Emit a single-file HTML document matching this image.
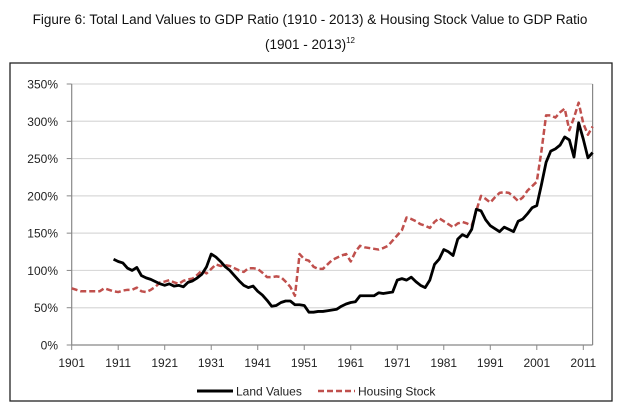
<!DOCTYPE html>
<html><head><meta charset="utf-8"><style>
body{margin:0;background:#fff;width:620px;height:406px;overflow:hidden;font-family:"Liberation Sans",sans-serif}
</style></head><body>
<svg width="620" height="406" xmlns="http://www.w3.org/2000/svg" style="font-family:'Liberation Sans',sans-serif">
<text x="310" y="24" text-anchor="middle" font-size="13.5" fill="#111">Figure 6: Total Land Values to GDP Ratio (1910 - 2013) &amp; Housing Stock Value to GDP Ratio</text>
<text x="310" y="49" text-anchor="middle" font-size="13.5" fill="#111">(1901 - 2013)<tspan font-size="8" dy="-6">12</tspan></text>
<rect x="10" y="63" width="602" height="338" fill="none" stroke="#222" stroke-width="1.3"/>
<g id="grid"></g><g id="axes"></g><g id="series"></g>
<g>
<line x1="197" y1="391" x2="233" y2="391" stroke="#000" stroke-width="3"/>
<text x="236" y="395.5" font-size="12" fill="#222">Land Values</text>
<line x1="318" y1="391" x2="355" y2="391" stroke="#c0504d" stroke-width="2.5" stroke-dasharray="6,3"/>
<text x="358" y="395.5" font-size="12" fill="#222">Housing Stock</text>
</g>
</svg>
<script>
const yTicks=[0,50,100,150,200,250,300,350];
const xTicks=[1901,1911,1921,1931,1941,1951,1961,1971,1981,1991,2001,2011];
const landYears=[1910,1911,1912,1913,1914,1915,1916,1917,1918,1919,1920,1921,1922,1923,1924,1925,1926,1927,1928,1929,1930,1931,1932,1933,1934,1935,1936,1937,1938,1939,1940,1941,1942,1943,1944,1945,1946,1947,1948,1949,1950,1951,1952,1953,1954,1955,1956,1957,1958,1959,1960,1961,1962,1963,1964,1965,1966,1967,1968,1969,1970,1971,1972,1973,1974,1975,1976,1977,1978,1979,1980,1981,1982,1983,1984,1985,1986,1987,1988,1989,1990,1991,1992,1993,1994,1995,1996,1997,1998,1999,2000,2001,2002,2003,2004,2005,2006,2007,2008,2009,2010,2011,2012,2013];
const landValues=[115,112,110,103,100,104,93,90,88,85,82,80,82,79,80,78,84,86,90,95,105,122,118,112,105,100,93,86,80,77,79,72,67,60,52,53,57,59,59,54,54,53,44,44,45,45,46,47,48,52,55,57,58,66,66,66,66,70,69,70,71,87,89,87,91,85,80,77,87,108,115,128,125,120,142,148,145,155,182,180,168,160,156,152,158,155,152,166,169,176,184,187,215,245,260,263,268,279,275,252,298,276,251,258];
const houseYears=[1901,1902,1903,1904,1905,1906,1907,1908,1909,1910,1911,1912,1913,1914,1915,1916,1917,1918,1919,1920,1921,1922,1923,1924,1925,1926,1927,1928,1929,1930,1931,1932,1933,1934,1935,1936,1937,1938,1939,1940,1941,1942,1943,1944,1945,1946,1947,1948,1949,1950,1951,1952,1953,1954,1955,1956,1957,1958,1959,1960,1961,1962,1963,1964,1965,1966,1967,1968,1969,1970,1971,1972,1973,1974,1975,1976,1977,1978,1979,1980,1981,1982,1983,1984,1985,1986,1987,1988,1989,1990,1991,1992,1993,1994,1995,1996,1997,1998,1999,2000,2001,2002,2003,2004,2005,2006,2007,2008,2009,2010,2011,2012,2013];
const houseValues=[76,74,72,72,72,72,72,76,74,72,71,73,74,74,77,72,71,74,78,84,85,87,84,82,86,88,89,94,100,96,102,108,106,107,106,103,100,98,103,103,102,97,91,91,92,91,85,78,66,122,115,113,105,102,102,108,114,117,120,122,112,125,133,131,130,129,128,130,133,140,147,154,171,169,166,162,160,157,165,170,166,162,158,163,165,163,160,180,200,196,191,198,204,205,204,199,193,198,207,213,219,260,308,308,305,312,317,288,305,325,297,282,293];

const NS="http://www.w3.org/2000/svg";
const X0=71.7,X1=592.6,Y0=345,Y1=84;
const xs=y=>X0+(y-1901)*(X1-X0)/(2013-1901);
const ys=v=>Y0-v*(Y0-Y1)/350;
function mk(tag,attrs,parent){const e=document.createElementNS(NS,tag);for(const k in attrs)e.setAttribute(k,attrs[k]);parent.appendChild(e);return e;}
const grid=document.getElementById('grid'),axes=document.getElementById('axes'),series=document.getElementById('series');
yTicks.forEach(v=>{
  if(v>0){const g=mk('line',{x1:X0,x2:X1,y1:ys(v),y2:ys(v),stroke:'#d9d9d9','stroke-width':1.2},grid);
  
  }
  const t=mk('line',{x1:X0-5,x2:X0,y1:ys(v),y2:ys(v),stroke:'#888'},axes);
  
  
  const l=mk('text',{x:58,y:ys(v)+4.5,'text-anchor':'end','font-size':12,fill:'#222'},axes);
  l.textContent=v+'%';
  
  
});
const ya=mk('line',{x1:X0,x2:X0,y1:Y1,y2:Y0,stroke:'#888','stroke-width':1.2},axes);


const rb=mk('line',{x1:X1,x2:X1,y1:Y1,y2:Y0,stroke:'#888','stroke-width':1.2},axes);


const xa=mk('line',{x1:X0,x2:X1,y1:Y0,y2:Y0,stroke:'#888','stroke-width':1.2},axes);


xTicks.forEach(y=>{
  const t=mk('line',{x1:xs(y),x2:xs(y),y1:Y0,y2:Y0+5,stroke:'#888'},axes);
  
  
  const l=mk('text',{x:xs(y),y:367,'text-anchor':'middle','font-size':12,fill:'#222'},axes);
  l.textContent=y;
  
  
});
const hp=mk('polyline',{points:houseYears.map((y,i)=>xs(y)+','+ys(houseValues[i])).join(' '),fill:'none',stroke:'#c0504d','stroke-width':2.5,'stroke-dasharray':'6,3','stroke-linejoin':'round'},series);


const lp=mk('polyline',{points:landYears.map((y,i)=>xs(y)+','+ys(landValues[i])).join(' '),fill:'none',stroke:'#000','stroke-width':2.8,'stroke-linejoin':'round'},series);


</script>
</body></html>
